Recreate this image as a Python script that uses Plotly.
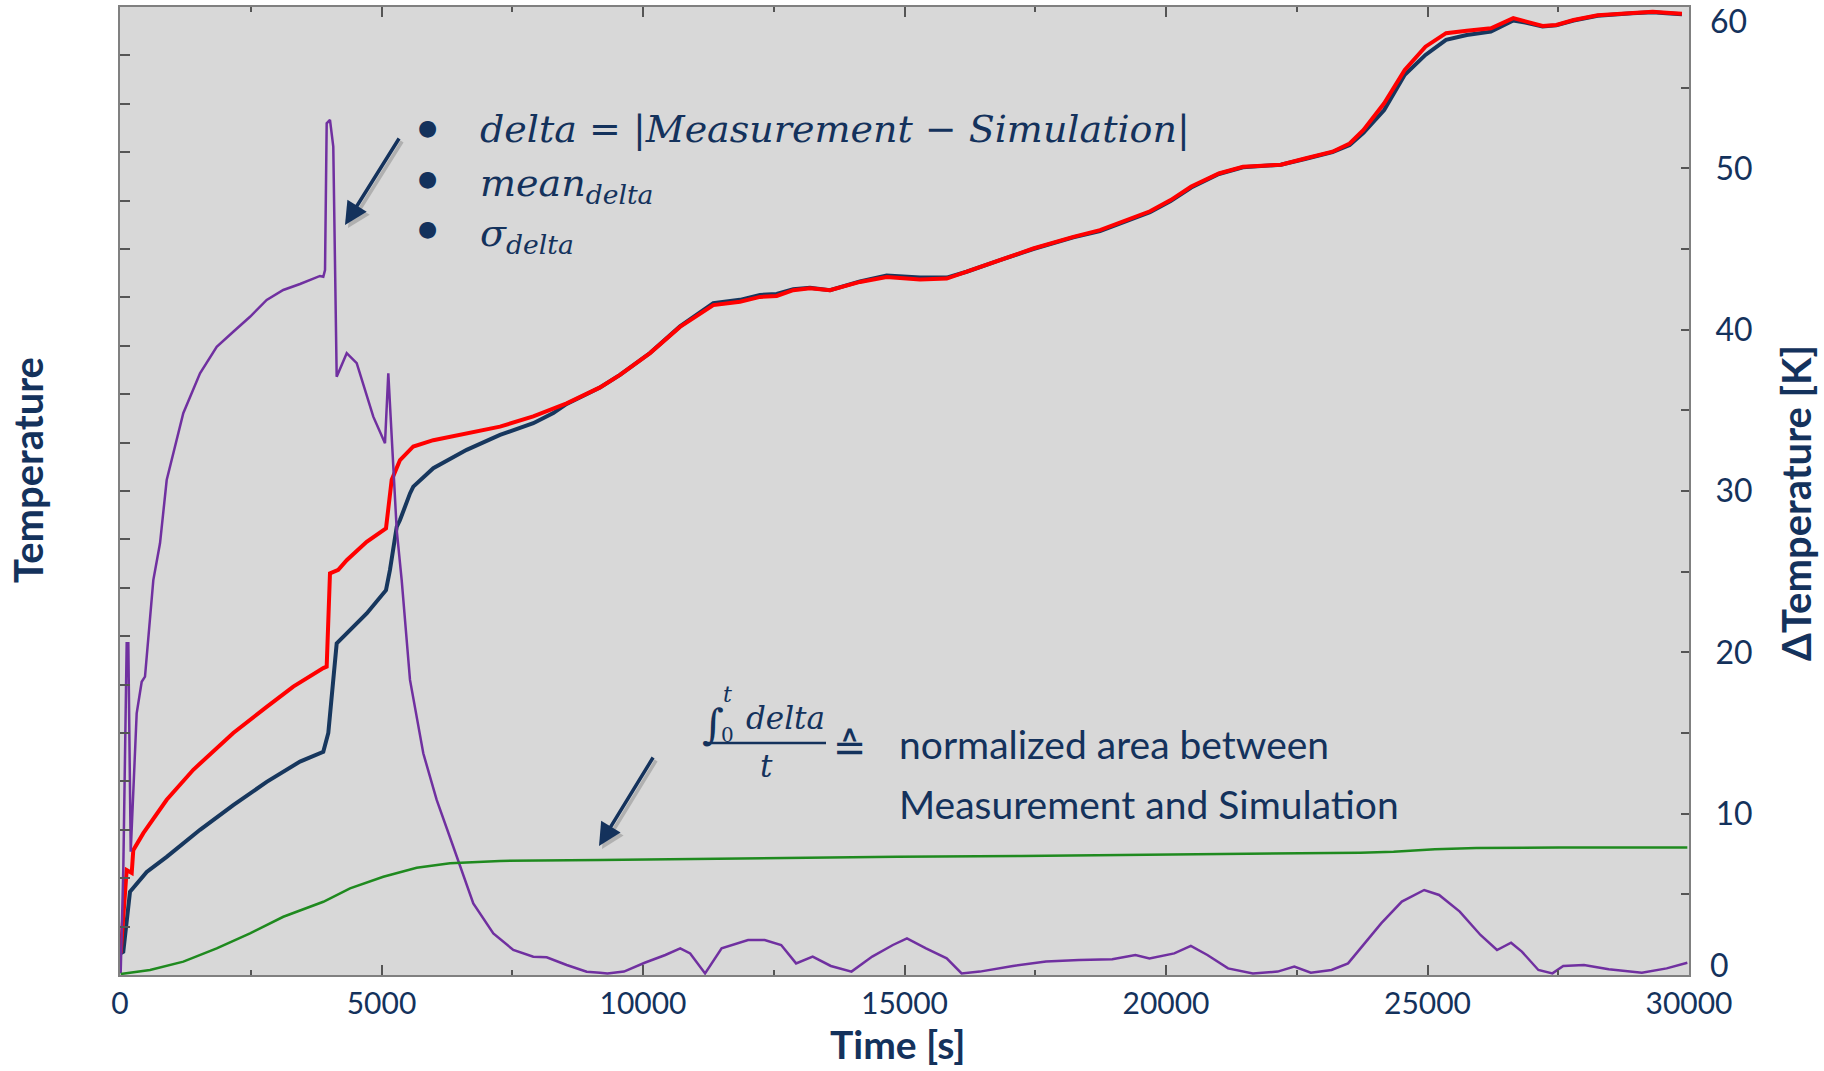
import plotly.graph_objects as go

# ---------------- data ----------------
# navy curve (left axis, "Temperature", 20 tick intervals)
meas_t = [13, 63, 191, 511, 893, 1530, 2166, 2805, 3442, 3887, 3983, 4143, 4335, 4717, 5086,
          5162, 5291, 5354, 5545, 5608, 5990, 6629, 7266, 7902, 8285, 8541, 9178, 9560, 10134,
          10707, 11344, 11854, 12237, 12556, 12873, 13193, 13575, 14149, 14659, 15296, 15807,
          16189, 16826, 17462, 18228, 18738, 19694, 20089, 20483, 21011, 21472, 22197, 22658,
          23183, 23512, 23776, 24171, 24565, 24961, 25355, 25751, 26212, 26640, 26870, 27200,
          27462, 27793, 28254, 28911, 29307, 29569, 29865]
meas_temp = [0.45, 0.48, 1.72, 2.13, 2.44, 3.00, 3.51, 3.99, 4.41, 4.61, 5.00, 6.85, 7.06, 7.47,
             7.95, 8.37, 9.26, 9.40, 9.95, 10.09, 10.47, 10.85, 11.16, 11.40, 11.61, 11.80, 12.14,
             12.40, 12.85, 13.40, 13.88, 13.95, 14.05, 14.07, 14.17, 14.20, 14.15, 14.33, 14.45,
             14.41, 14.41, 14.53, 14.77, 15.00, 15.24, 15.37, 15.76, 15.99, 16.27, 16.55, 16.69,
             16.74, 16.86, 17.00, 17.15, 17.40, 17.87, 18.60, 19.01, 19.32, 19.42, 19.49, 19.72,
             19.68, 19.60, 19.62, 19.72, 19.82, 19.87, 19.89, 19.87, 19.85]

# red curve (left axis)
sim_t = [13, 128, 224, 254, 446, 893, 1401, 2166, 2805, 3313, 3887, 3952, 4015, 4174, 4335, 4717,
         5086, 5162, 5195, 5354, 5608, 5990, 6629, 7266, 7902, 8541, 9178, 9560, 10134, 10707,
         11344, 11854, 12237, 12556, 12873, 13193, 13575, 14149, 14659, 15296, 15807, 16189,
         16826, 17462, 18228, 18738, 19694, 20089, 20483, 21011, 21472, 22197, 22658, 23183,
         23512, 23776, 24171, 24565, 24961, 25355, 25751, 26212, 26640, 26870, 27200, 27462,
         27793, 28254, 28911, 29307, 29569, 29865]
sim_temp = [0.45, 2.17, 2.11, 2.58, 2.93, 3.62, 4.24, 5.00, 5.54, 5.96, 6.34, 6.37, 8.30, 8.37,
            8.57, 8.95, 9.23, 9.88, 10.23, 10.64, 10.92, 11.05, 11.19, 11.33, 11.54, 11.81, 12.14,
            12.40, 12.85, 13.39, 13.84, 13.91, 14.01, 14.03, 14.15, 14.19, 14.15, 14.32, 14.42,
            14.37, 14.39, 14.53, 14.77, 15.01, 15.25, 15.39, 15.78, 16.01, 16.29, 16.56, 16.70,
            16.74, 16.87, 17.01, 17.18, 17.46, 18.01, 18.70, 19.18, 19.46, 19.51, 19.56, 19.77,
            19.70, 19.61, 19.63, 19.73, 19.83, 19.88, 19.90, 19.88, 19.86]

# delta = |Measurement - Simulation| (right axis, K)
delta_t = [13, 63, 128, 159, 205, 319, 415, 478, 637, 765, 893, 1210, 1530, 1849, 2166, 2486,
           2805, 3122, 3442, 3824, 3887, 3920, 3952, 4015, 4078, 4143, 4335, 4526, 4843, 5067,
           5130, 5225, 5291, 5386, 5545, 5799, 6055, 6373, 6755, 7138, 7520, 7902, 8158, 8541,
           8923, 9178, 9320, 9636, 10032, 10427, 10712, 10902, 11187, 11503, 12009, 12326, 12642,
           12927, 13244, 13592, 13987, 14383, 14778, 15047, 15411, 15807, 16092, 16440, 17073,
           17706, 18339, 18972, 19415, 19684, 20158, 20475, 20791, 21187, 21661, 22136, 22453,
           22769, 23165, 23481, 23750, 24114, 24509, 24937, 25222, 25617, 26013, 26329, 26598,
           26804, 27120, 27389, 27595, 27991, 28465, 29098, 29573, 29968]
delta_k = [0.11, 6.51, 20.56, 20.56, 7.64, 16.22, 18.18, 18.49, 24.48, 26.76, 30.68, 34.82, 37.30,
           38.94, 39.87, 40.80, 41.84, 42.46, 42.83, 43.33, 43.28, 43.70, 52.79, 53.00, 51.34,
           37.08, 38.54, 37.92, 34.61, 32.96, 37.30, 31.72, 27.58, 24.48, 18.29, 13.74, 10.85,
           7.95, 4.44, 2.58, 1.55, 1.13, 1.10, 0.62, 0.20, 0.14, 0.10, 0.21, 0.76, 1.24, 1.65,
           1.34, 0.10, 1.65, 2.17, 2.17, 1.86, 0.72, 1.14, 0.56, 0.21, 1.14, 1.86, 2.27, 1.65,
           1.03, 0.10, 0.21, 0.56, 0.83, 0.93, 0.97, 1.24, 1.03, 1.34, 1.80, 1.24, 0.41, 0.10,
           0.21, 0.52, 0.14, 0.31, 0.72, 1.76, 3.20, 4.55, 5.27, 4.96, 3.93, 2.48, 1.55, 2.00,
           1.45, 0.31, 0.10, 0.56, 0.62, 0.35, 0.14, 0.41, 0.76]

# normalized area between Measurement and Simulation (right axis, K)
area_t = [13, 574, 1211, 1849, 2486, 3123, 3888, 4398, 5035, 5364, 5673, 6310, 7266, 9178, 10111,
          12484, 14858, 17231, 19605, 20554, 21978, 23719, 24351, 25142, 25934, 27516, 29968]
area_k = [0.06, 0.31, 0.83, 1.65, 2.58, 3.61, 4.54, 5.37, 6.09, 6.40, 6.65, 6.92, 7.07, 7.13, 7.17,
          7.23, 7.33, 7.38, 7.44, 7.50, 7.54, 7.58, 7.64, 7.79, 7.87, 7.91, 7.91]

x_ticks = [0, 5000, 10000, 15000, 20000, 25000, 30000]
x_labels = ["0", "5000", "10000", "15000", "20000", "25000", "30000"]
y2_ticks = [10, 20, 30, 40, 50]

# ---------------- styling ----------------
NAVY = "#14325c"
W, H = 1824, 1071
L, R, T, B = 120, 135, 7, 96
PW, PH = W - L - R, H - T - B


def px(X):
    return (X - L) / PW


def py(Y):
    return (H - B - Y) / PH


fig = go.Figure()
fig.add_trace(go.Scatter(x=meas_t, y=meas_temp, mode="lines", name="Measurement",
                         line=dict(color="#17375e", width=4), yaxis="y"))
fig.add_trace(go.Scatter(x=sim_t, y=sim_temp, mode="lines", name="Simulation",
                         line=dict(color="#ff0000", width=4), yaxis="y"))
fig.add_trace(go.Scatter(x=delta_t, y=delta_k, mode="lines", name="delta",
                         line=dict(color="#7030a0", width=2.5), yaxis="y2"))
fig.add_trace(go.Scatter(x=area_t, y=area_k, mode="lines", name="normalized area",
                         line=dict(color="#1f8a1f", width=2.5), yaxis="y2"))

axis_line = dict(showline=True, linecolor="#808080", linewidth=2, showgrid=False, zeroline=False)

fig.update_layout(
    width=W, height=H,
    margin=dict(l=L, r=R, t=T, b=B, autoexpand=False),
    paper_bgcolor="white", plot_bgcolor="#d8d8d8",
    showlegend=False,
    xaxis=dict(range=[0, 30000], tickvals=x_ticks, ticktext=x_labels, ticks="inside", ticklen=10,
               tickwidth=1.5, tickcolor="#555555", mirror="ticks", automargin=False,
               tickfont=dict(family="Lato", size=30, color=NAVY), ticklabelstandoff=1,
               minor=dict(dtick=2500, ticks="inside", ticklen=5, tickcolor="#555555", tickwidth=1.5),
               **axis_line),
    yaxis=dict(range=[0, 20], dtick=1, ticks="inside", ticklen=10, tickwidth=1.5,
               tickcolor="#555555", showticklabels=False, automargin=False, **axis_line),
    yaxis2=dict(range=[0, 60], overlaying="y", side="right", tickvals=y2_ticks,
                ticks="inside", ticklen=8, tickwidth=1.5, tickcolor="#555555", automargin=False,
                minor=dict(dtick=5, ticks="inside", ticklen=8, tickcolor="#555555", tickwidth=1.5),
                tickfont=dict(family="Lato", size=32, color=NAVY), ticklabelstandoff=18,
                **axis_line),
)

ann = []


def text(X, Y, s, size, family="Lato", xanchor="left", color=NAVY, angle=0):
    ann.append(dict(x=px(X), y=py(Y), xref="paper", yref="paper", text=s, showarrow=False,
                    xanchor=xanchor, yanchor="middle", textangle=angle,
                    font=dict(family=family, size=size, color=color)))


# end labels of right axis (kept inside the plot's height like in the reference)
text(1708, 20, "60", 32)
text(1708, 964, "0", 32)

# axis titles
text(28, 470, "<b>Temperature</b>", 40, xanchor="center", angle=-90)
text(1796, 503, "<b>ΔTemperature [K]</b>", 40, xanchor="center", angle=-90)
text(897, 1044, "<b>Time [s]</b>", 39, xanchor="center")

# bullet list
SERIF = "DejaVu Serif"
for yb in (127, 178, 229):
    text(427, yb, "●", 22, family="DejaVu Sans", xanchor="center")
text(478, 129, "<i>delta</i> = |<i>Measurement</i> − <i>Simulation</i>|", 38, family=SERIF)
text(478, 185, "<i>mean<sub>delta</sub></i>", 38, family=SERIF)
text(478, 236, "<i>σ<sub>delta</sub></i>", 38, family=SERIF)

# fraction  ∫0^t delta / t  ≙
text(713, 724, "<i>∫</i>", 42, family=SERIF, xanchor="center")
text(727, 694, "<i>t</i>", 22, family=SERIF, xanchor="center")
text(727, 735, "0", 20, family=SERIF, xanchor="center")
text(785, 718, "<i>delta</i>", 31, family=SERIF, xanchor="center")
text(766, 766, "<i>t</i>", 31, family=SERIF, xanchor="center")
text(850, 747, "≙", 40, family="DejaVu Sans", xanchor="center")
text(897, 744, "normalized area between", 39)
text(897, 804, "Measurement and Simulation", 39)

# arrows (with soft shadow)
for (hx, hy, tx, ty) in [(345, 225, 400, 137), (599, 846, 654, 756)]:
    ann.append(dict(x=px(hx + 3), y=py(hy + 3), xref="paper", yref="paper", ax=tx - hx, ay=ty - hy,
                    text="", showarrow=True, arrowhead=2, arrowsize=1.3, arrowwidth=3.5,
                    arrowcolor="rgba(0,0,0,0.18)", standoff=0))
    ann.append(dict(x=px(hx), y=py(hy), xref="paper", yref="paper", ax=tx - hx, ay=ty - hy,
                    text="", showarrow=True, arrowhead=2, arrowsize=1.3, arrowwidth=3.5,
                    arrowcolor=NAVY, standoff=0))

fig.update_layout(annotations=ann)
fig.add_shape(type="line", xref="paper", yref="paper", x0=px(704), x1=px(826), y0=py(743), y1=py(743),
              line=dict(color=NAVY, width=2.5))

fig.write_html("out.html", config={"displayModeBar": False},
               post_script="document.body.style.margin='0';document.body.style.padding='0';")
